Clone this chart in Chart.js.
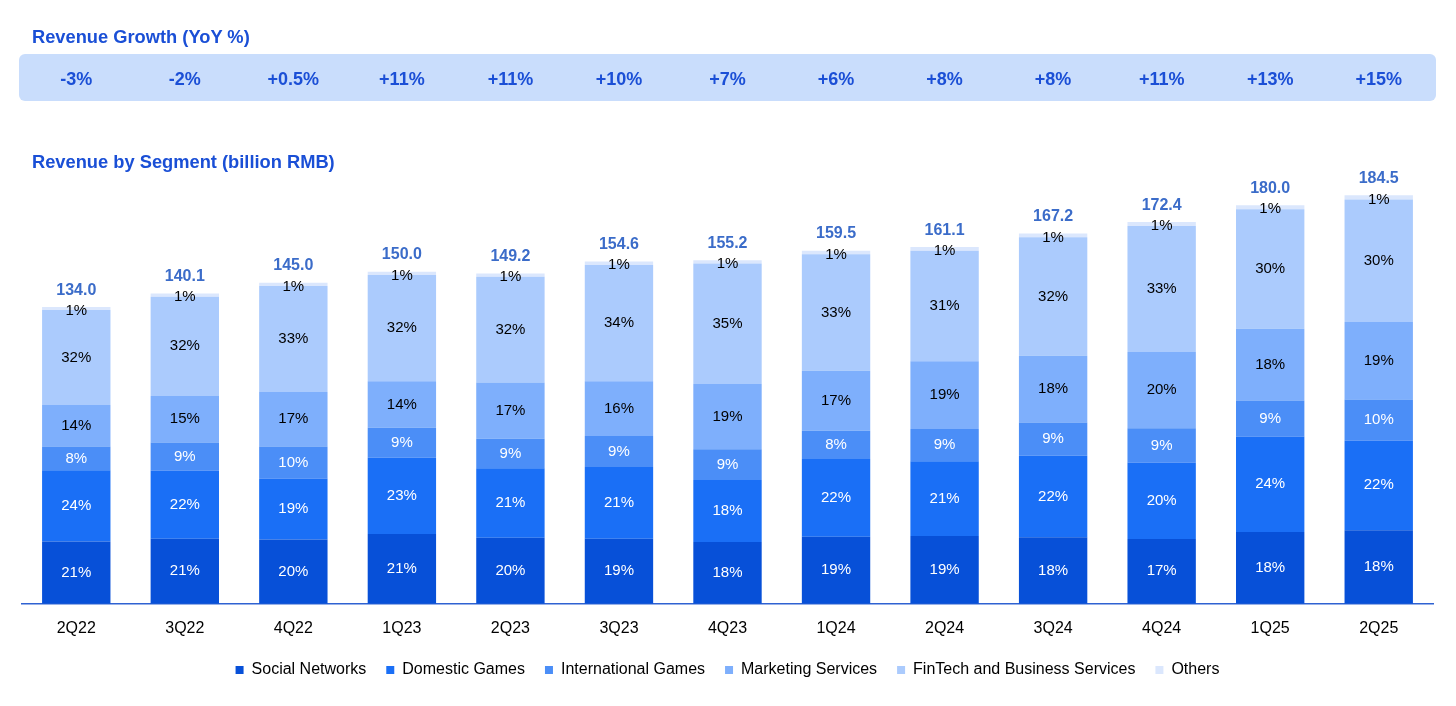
<!DOCTYPE html>
<html>
<head>
<meta charset="utf-8">
<script src="https://cdn.jsdelivr.net/npm/chart.js@4.4.1/dist/chart.umd.min.js"></script>
<style>
  html, body { margin: 0; padding: 0; background: #fff; }
  #wrap { position: relative; width: 1456px; height: 706px; overflow: hidden; font-family: "Liberation Sans", Arial, sans-serif; }
  #wrap canvas { position: absolute; left: 0; top: 0; }
  .title { position: absolute; left: 32px; font-weight: bold; font-size: 18.3px; line-height: 20px; color: #1a4fd6; }
  #t1 { top: 27px; }
  #t2 { top: 152px; }
</style>
</head>
<body>
<div id="wrap">
  <canvas id="chart" width="1456" height="706"></canvas>
  <div class="title" id="t1">Revenue Growth (YoY %)</div>
  <div class="title" id="t2">Revenue by Segment (billion RMB)</div>
</div>
<script>
const quarters = ["2Q22", "3Q22", "4Q22", "1Q23", "2Q23", "3Q23", "4Q23", "1Q24", "2Q24", "3Q24", "4Q24", "1Q25", "2Q25"];
const totals = [134.0, 140.1, 145.0, 150.0, 149.2, 154.6, 155.2, 159.5, 161.1, 167.2, 172.4, 180.0, 184.5];
const growth = ["-3%", "-2%", "+0.5%", "+11%", "+11%", "+10%", "+7%", "+6%", "+8%", "+8%", "+11%", "+13%", "+15%"];

const segments = ["Social Networks", "Domestic Games", "International Games", "Marketing Services", "FinTech and Business Services", "Others"];
// share of total revenue (%), per segment
const socialPct = [21, 21, 20, 21, 20, 19, 18, 19, 19, 18, 17, 18, 18];
const domesticPct = [24, 22, 19, 23, 21, 21, 18, 22, 21, 22, 20, 24, 22];
const intlPct = [8, 9, 10, 9, 9, 9, 9, 8, 9, 9, 9, 9, 10];
const marketingPct = [14, 15, 17, 14, 17, 16, 19, 17, 19, 18, 20, 18, 19];
const fintechPct = [32, 32, 33, 32, 32, 34, 35, 33, 31, 32, 33, 30, 30];
const othersPct = [1, 1, 1, 1, 1, 1, 1, 1, 1, 1, 1, 1, 1];

(function () {
  const FONT = "'Liberation Sans', Arial, sans-serif";
  const shares = [socialPct, domesticPct, intlPct, marketingPct, fintechPct, othersPct];
  const colors = ["#0750d8", "#1a6ff6", "#4b8ef7", "#7eaffc", "#abcbfd", "#dbe7fd"];

  Chart.defaults.font.family = FONT;

  const labelsPlugin = {
    id: "labelsPlugin",
    beforeDraw(chart) {
      const ctx = chart.ctx;
      const x = chart.scales.x;
      ctx.save();
      ctx.fillStyle = "#c9ddfc";
      ctx.beginPath();
      ctx.roundRect(19, 54, 1417, 47, 6);
      ctx.fill();
      ctx.font = "bold 18px " + FONT;
      ctx.fillStyle = "#1b4fd6";
      ctx.textAlign = "center";
      ctx.textBaseline = "middle";
      growth.forEach((g, i) => ctx.fillText(g, x.getPixelForValue(i), 80));
      ctx.restore();
    },
    afterDatasetsDraw(chart) {
      const ctx = chart.ctx;
      ctx.save();
      ctx.textAlign = "center";
      ctx.textBaseline = "middle";
      ctx.font = "15px " + FONT;
      chart.data.datasets.forEach((ds, di) => {
        const meta = chart.getDatasetMeta(di);
        meta.data.forEach((bar, i) => {
          const mid = (bar.y + bar.base) / 2;
          ctx.fillStyle = di < 3 ? "#ffffff" : "#000000";
          ctx.fillText(shares[di][i] + "%", bar.x, di === 5 ? mid + 2 : mid);
        });
      });
      const top = chart.getDatasetMeta(5);
      ctx.font = "bold 16px " + FONT;
      ctx.fillStyle = "#3b6cc9";
      top.data.forEach((bar, i) => ctx.fillText(totals[i].toFixed(1), bar.x, bar.y - 17));
      ctx.restore();
    }
  };

  function buildChart() {
    const canvas = document.getElementById("chart");
    new Chart(canvas, {
      type: "bar",
      data: {
        labels: quarters,
        datasets: segments.map((name, di) => ({
          label: name,
          data: totals.map((t, i) => t * shares[di][i] / 100),
          backgroundColor: colors[di],
          borderWidth: 0,
          barPercentage: 0.63,
          categoryPercentage: 1
        }))
      },
      options: {
        responsive: false,
        animation: false,
        layout: { padding: { left: 22, right: 23, top: 161, bottom: 18 } },
        plugins: {
          legend: {
            position: "bottom",
            labels: {
              boxWidth: 8,
              boxHeight: 8,
              padding: 20,
              color: "#000",
              font: { size: 16 }
            }
          },
          tooltip: { enabled: false }
        },
        scales: {
          x: {
            stacked: true,
            grid: { display: false, drawTicks: false },
            border: { color: "#2f62d2", width: 1.5 },
            ticks: { color: "#000", font: { size: 16 }, padding: 15 },
            afterFit(scale) { scale.height -= 11; }
          },
          y: {
            stacked: true,
            display: false,
            min: 0,
            max: 200
          }
        }
      },
      plugins: [labelsPlugin]
    });
  }

  buildChart();
})();
</script>
</body>
</html>
